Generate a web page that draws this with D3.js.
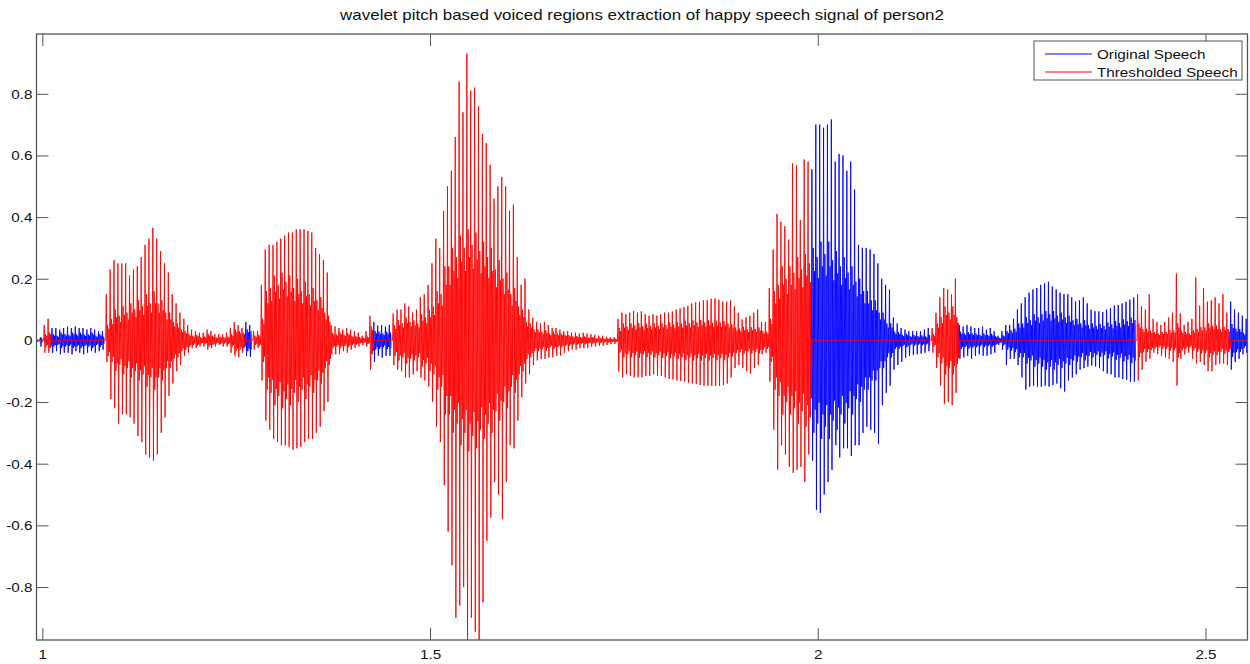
<!DOCTYPE html>
<html>
<head>
<meta charset="utf-8">
<script src="https://cdn.jsdelivr.net/npm/d3@7"></script>
<style>
  body { margin: 0; background: #fff; }
  text { font-family: "Liberation Sans", Arial, Helvetica, sans-serif; fill: #111; }
</style>
</head>
<body>
<svg id="chart" width="1250" height="664"></svg>
<script>
// Speech frames: one frame every 5 ms, each holding the positive peak,
// the negative peak and the amplitude of the ringing between peaks.
const frameStart = 0.9925;
const frameStep = 0.005;
const timeRange = [0.9925, 2.5542];
const valueRange = [-0.972, 0.994];

const peakHigh = [
  0.004,0.01,0.05,0.07,0.04,0.04,0.035,0.04,0.045,0.04,
  0.045,0.04,0.04,0.035,0.04,0.035,0.03,0.03,0.15,0.23,
  0.26,0.25,0.25,0.25,0.21,0.23,0.24,0.27,0.31,0.33,
  0.365,0.33,0.29,0.25,0.22,0.15,0.12,0.09,0.07,0.05,
  0.035,0.03,0.025,0.025,0.035,0.03,0.02,0.02,0.02,0.025,
  0.04,0.06,0.05,0.04,0.06,0.05,0.03,0.03,0.18,0.295,
  0.31,0.31,0.32,0.33,0.34,0.35,0.35,0.36,0.36,0.36,
  0.355,0.35,0.3,0.28,0.26,0.22,0.05,0.045,0.04,0.035,
  0.04,0.035,0.03,0.025,0.015,0.03,0.08,0.06,0.048,0.05,
  0.045,0.05,0.087,0.1,0.1,0.12,0.11,0.09,0.1,0.14,
  0.15,0.18,0.25,0.33,0.3,0.42,0.5,0.55,0.66,0.84,
  0.74,0.93,0.81,0.82,0.76,0.67,0.64,0.57,0.46,0.5,
  0.53,0.5,0.42,0.44,0.27,0.18,0.2,0.1,0.074,0.06,
  0.055,0.06,0.05,0.04,0.04,0.035,0.03,0.03,0.025,0.025,
  0.022,0.025,0.022,0.02,0.018,0.016,0.015,0.012,0.01,0.01,
  0.07,0.09,0.085,0.09,0.095,0.09,0.094,0.085,0.08,0.085,
  0.08,0.085,0.09,0.09,0.094,0.1,0.104,0.108,0.112,0.12,
  0.123,0.125,0.13,0.13,0.135,0.136,0.132,0.126,0.125,0.13,
  0.11,0.09,0.068,0.075,0.08,0.09,0.1,0.06,0.06,0.17,
  0.295,0.41,0.385,0.37,0.327,0.574,0.568,0.39,0.587,0.58,
  0.555,0.7,0.7,0.69,0.7,0.717,0.58,0.605,0.6,0.55,
  0.58,0.49,0.31,0.3,0.3,0.295,0.28,0.25,0.2,0.18,
  0.165,0.074,0.055,0.04,0.035,0.03,0.03,0.03,0.03,0.035,
  0.04,0.04,0.09,0.14,0.17,0.165,0.15,0.2,0.05,0.045,
  0.05,0.045,0.04,0.04,0.045,0.035,0.04,0.03,0.015,0.03,
  0.05,0.05,0.07,0.1,0.12,0.14,0.155,0.165,0.17,0.18,
  0.185,0.19,0.175,0.165,0.155,0.15,0.15,0.14,0.126,0.13,
  0.139,0.12,0.1,0.095,0.094,0.092,0.1,0.105,0.113,0.115,
  0.12,0.125,0.132,0.139,0.15,0.11,0.1,0.15,0.07,0.06,
  0.05,0.06,0.074,0.09,0.217,0.087,0.05,0.06,0.07,0.204,
  0.113,0.17,0.126,0.13,0.14,0.12,0.15,0.09,0.126,0.1,
  0.09,0.08,0.07
];

const peakLow = [
  -0.004,-0.02,-0.04,-0.04,-0.04,-0.035,-0.045,-0.04,-0.04,-0.045,
  -0.035,-0.04,-0.045,-0.04,-0.035,-0.04,-0.035,-0.03,-0.07,-0.19,
  -0.22,-0.27,-0.24,-0.24,-0.25,-0.27,-0.31,-0.33,-0.37,-0.38,
  -0.39,-0.37,-0.3,-0.25,-0.18,-0.14,-0.1,-0.08,-0.05,-0.04,
  -0.025,-0.025,-0.02,-0.02,-0.03,-0.025,-0.02,-0.015,-0.02,-0.02,
  -0.04,-0.05,-0.055,-0.04,-0.05,-0.053,-0.03,-0.025,-0.13,-0.26,
  -0.29,-0.32,-0.33,-0.34,-0.34,-0.345,-0.355,-0.35,-0.345,-0.33,
  -0.32,-0.32,-0.3,-0.28,-0.23,-0.2,-0.045,-0.045,-0.045,-0.035,
  -0.04,-0.03,-0.025,-0.02,-0.015,-0.02,-0.095,-0.07,-0.05,-0.056,
  -0.05,-0.05,-0.08,-0.095,-0.1,-0.12,-0.12,-0.11,-0.1,-0.12,
  -0.13,-0.15,-0.2,-0.28,-0.33,-0.47,-0.62,-0.73,-0.9,-0.86,
  -0.8,-0.98,-0.9,-0.945,-0.975,-0.85,-0.65,-0.575,-0.46,-0.5,
  -0.58,-0.46,-0.34,-0.35,-0.26,-0.185,-0.14,-0.11,-0.08,-0.065,
  -0.06,-0.06,-0.055,-0.055,-0.05,-0.05,-0.04,-0.035,-0.03,-0.03,
  -0.025,-0.025,-0.025,-0.02,-0.02,-0.018,-0.017,-0.015,-0.012,-0.012,
  -0.1,-0.12,-0.11,-0.115,-0.12,-0.12,-0.12,-0.115,-0.115,-0.11,
  -0.115,-0.115,-0.12,-0.125,-0.127,-0.13,-0.132,-0.134,-0.137,-0.14,
  -0.142,-0.145,-0.147,-0.147,-0.148,-0.148,-0.147,-0.145,-0.14,-0.12,
  -0.09,-0.08,-0.09,-0.1,-0.108,-0.09,-0.08,-0.045,-0.04,-0.134,
  -0.29,-0.42,-0.34,-0.37,-0.41,-0.43,-0.42,-0.41,-0.46,-0.37,
  -0.39,-0.55,-0.56,-0.5,-0.46,-0.42,-0.34,-0.38,-0.35,-0.35,
  -0.375,-0.34,-0.34,-0.3,-0.28,-0.29,-0.3,-0.335,-0.21,-0.17,
  -0.147,-0.095,-0.08,-0.07,-0.056,-0.05,-0.047,-0.045,-0.043,-0.04,
  -0.035,-0.04,-0.09,-0.147,-0.205,-0.2,-0.21,-0.17,-0.06,-0.055,
  -0.05,-0.06,-0.05,-0.045,-0.05,-0.05,-0.045,-0.04,-0.015,-0.03,
  -0.08,-0.06,-0.06,-0.08,-0.12,-0.16,-0.15,-0.147,-0.15,-0.15,
  -0.147,-0.15,-0.145,-0.14,-0.155,-0.166,-0.13,-0.12,-0.11,-0.095,
  -0.09,-0.085,-0.082,-0.085,-0.09,-0.1,-0.108,-0.11,-0.12,-0.12,
  -0.125,-0.128,-0.134,-0.134,-0.13,-0.095,-0.07,-0.06,-0.04,-0.045,
  -0.05,-0.055,-0.06,-0.07,-0.147,-0.06,-0.045,-0.04,-0.06,-0.075,
  -0.07,-0.08,-0.1,-0.1,-0.08,-0.075,-0.075,-0.08,-0.095,-0.07,
  -0.06,-0.045,-0.04
];

const coreAmp = [
  0.002,0.008,0.02,0.025,0.02,0.015,0.025,0.02,0.018,0.025,
  0.02,0.025,0.018,0.02,0.025,0.015,0.02,0.012,0.05,0.07,
  0.1,0.08,0.11,0.09,0.12,0.1,0.13,0.11,0.15,0.12,
  0.16,0.12,0.13,0.09,0.09,0.06,0.055,0.035,0.03,0.02,
  0.015,0.018,0.01,0.012,0.02,0.015,0.01,0.012,0.01,0.012,
  0.02,0.035,0.03,0.025,0.035,0.03,0.015,0.018,0.07,0.16,
  0.17,0.21,0.18,0.22,0.19,0.21,0.17,0.2,0.16,0.19,
  0.15,0.17,0.13,0.14,0.09,0.08,0.025,0.02,0.025,0.018,
  0.022,0.015,0.014,0.01,0.008,0.012,0.045,0.03,0.028,0.022,
  0.028,0.025,0.05,0.065,0.055,0.075,0.06,0.065,0.055,0.085,
  0.075,0.1,0.11,0.16,0.15,0.24,0.24,0.3,0.27,0.34,
  0.3,0.36,0.31,0.35,0.29,0.32,0.27,0.3,0.23,0.26,
  0.2,0.22,0.15,0.17,0.11,0.1,0.06,0.055,0.035,0.035,
  0.028,0.033,0.022,0.028,0.022,0.022,0.018,0.017,0.013,0.014,
  0.011,0.013,0.009,0.011,0.007,0.009,0.006,0.007,0.005,0.005,
  0.04,0.055,0.045,0.055,0.048,0.056,0.046,0.054,0.047,0.055,
  0.048,0.056,0.05,0.058,0.052,0.06,0.055,0.064,0.056,0.065,
  0.058,0.066,0.058,0.065,0.057,0.064,0.058,0.063,0.055,0.052,
  0.042,0.038,0.044,0.036,0.043,0.037,0.042,0.03,0.028,0.07,
  0.16,0.18,0.24,0.2,0.24,0.22,0.27,0.23,0.28,0.25,
  0.3,0.27,0.32,0.28,0.32,0.26,0.29,0.24,0.27,0.22,
  0.24,0.19,0.2,0.16,0.16,0.13,0.13,0.09,0.09,0.055,
  0.055,0.028,0.027,0.018,0.022,0.014,0.017,0.014,0.016,0.013,
  0.017,0.02,0.055,0.075,0.11,0.09,0.11,0.075,0.028,0.022,
  0.027,0.023,0.022,0.018,0.022,0.018,0.021,0.014,0.008,0.016,
  0.03,0.033,0.038,0.055,0.055,0.075,0.065,0.085,0.075,0.085,
  0.095,0.085,0.095,0.08,0.09,0.075,0.08,0.065,0.07,0.055,
  0.065,0.05,0.055,0.047,0.053,0.047,0.058,0.052,0.063,0.056,
  0.068,0.062,0.074,0.066,0.055,0.037,0.038,0.032,0.027,0.023,
  0.027,0.028,0.033,0.032,0.055,0.032,0.027,0.023,0.033,0.037,
  0.043,0.042,0.055,0.047,0.048,0.037,0.043,0.037,0.053,0.038,
  0.037,0.024,0.021
];

// Time spans (s) kept by the wavelet pitch threshold
const voicedRegions = [
  [1.000, 1.010], [1.080, 1.260], [1.270, 1.425],
  [1.450, 1.990], [2.145, 2.180], [2.410, 2.530]
];

const xTicks = [1, 1.5, 2, 2.5];
const yTicks = [-0.8, -0.6, -0.4, -0.2, 0, 0.2, 0.4, 0.6, 0.8];
const chartTitle = "wavelet pitch based voiced regions extraction of happy speech signal of person2";
const seriesNames = ["Original Speech", "Thresholded Speech"];
const seriesColors = ["#0000ff", "#ff0000"];

// ---- layout ----
const W = 1250, H = 664;
const plot = { left: 36.5, right: 1247.5, top: 34, bottom: 640 };
const tickLen = 12;
const textStretch = 1.13;
// shape of one frame: main peak, main trough, then two decaying ringing swings
const ringing = [1, -1, 0.75, -0.75];

const svg = d3.select("#chart");
svg.append("rect").attr("width", W).attr("height", H).attr("fill", "#fff");

const x = d3.scaleLinear().domain(timeRange).range([plot.left, plot.right]);
const y = d3.scaleLinear().domain(valueRange).range([plot.bottom, plot.top]);

const defs = svg.append("defs");
defs.append("clipPath").attr("id", "plotClip")
  .append("rect")
  .attr("x", plot.left).attr("y", plot.top)
  .attr("width", plot.right - plot.left).attr("height", plot.bottom - plot.top);

// the original trace is only visible where the thresholded trace does not overlay it
const openSpans = [];
let cursor = timeRange[0];
voicedRegions.forEach(([a, b]) => { openSpans.push([cursor, a]); cursor = b; });
openSpans.push([cursor, timeRange[1]]);
defs.append("clipPath").attr("id", "openClip")
  .selectAll("rect").data(openSpans).join("rect")
  .attr("x", d => x(d[0])).attr("y", plot.top)
  .attr("width", d => x(d[1]) - x(d[0])).attr("height", plot.bottom - plot.top);

const isVoiced = t => voicedRegions.some(([a, b]) => t >= a && t <= b);

function framePoints(keep) {
  const pts = [];
  const n = 2 + ringing.length;
  peakHigh.forEach((hi, i) => {
    const t = frameStart + i * frameStep;
    const g = keep(t) ? 1 : 0;
    pts.push([t, hi * g]);
    pts.push([t + frameStep / n, peakLow[i] * g]);
    ringing.forEach((r, k) => pts.push([t + frameStep * (k + 2) / n, coreAmp[i] * r * g]));
  });
  return pts;
}

const line = d3.line().x(d => x(d[0])).y(d => y(d[1]));

const waves = svg.append("g").attr("clip-path", "url(#plotClip)");
waves.append("g").attr("clip-path", "url(#openClip)")
  .append("path")
  .attr("d", line(framePoints(() => true)))
  .attr("fill", "none").attr("stroke", seriesColors[0]).attr("stroke-width", 0.9);
waves.append("path")
  .attr("d", line(framePoints(isVoiced)))
  .attr("fill", "none").attr("stroke", seriesColors[1]).attr("stroke-width", 0.9);

// ---- axes (ticks inward on all four sides) ----
const axisColor = "#555";
const fmt = d => String(+d.toFixed(1));

function styleAxis(g) {
  g.select(".domain").remove();
  g.selectAll(".tick line").attr("stroke", axisColor);
  g.selectAll(".tick text")
    .attr("fill", "#111")
    .style("font-size", "13.5px")
    .style("font-family", '"Liberation Sans", Arial, sans-serif');
}

const gBottom = svg.append("g").attr("transform", `translate(0,${plot.bottom})`)
  .call(d3.axisBottom(x).tickValues(xTicks).tickFormat(fmt)
    .tickSizeInner(-tickLen).tickSizeOuter(0).tickPadding(9));
styleAxis(gBottom);
gBottom.selectAll(".tick text").attr("transform", `scale(${textStretch},1)`);

const gLeft = svg.append("g").attr("transform", `translate(${plot.left},0)`)
  .call(d3.axisLeft(y).tickValues(yTicks).tickFormat(fmt)
    .tickSizeInner(-tickLen).tickSizeOuter(0).tickPadding(3.5));
styleAxis(gLeft);
gLeft.selectAll(".tick text").attr("transform", `scale(${textStretch},1)`);

const gTop = svg.append("g").attr("transform", `translate(0,${plot.top})`)
  .call(d3.axisTop(x).tickValues(xTicks).tickFormat("")
    .tickSizeInner(-tickLen).tickSizeOuter(0));
styleAxis(gTop);

const gRight = svg.append("g").attr("transform", `translate(${plot.right},0)`)
  .call(d3.axisRight(y).tickValues(yTicks).tickFormat("")
    .tickSizeInner(-tickLen).tickSizeOuter(0));
styleAxis(gRight);

svg.append("rect")
  .attr("x", plot.left).attr("y", plot.top)
  .attr("width", plot.right - plot.left).attr("height", plot.bottom - plot.top)
  .attr("fill", "none").attr("stroke", axisColor).attr("stroke-width", 1.3);

// ---- title ----
svg.append("text")
  .attr("transform", `translate(${(plot.left + plot.right) / 2},20) scale(${textStretch},1)`)
  .attr("text-anchor", "middle")
  .style("font-size", "15px")
  .text(chartTitle);

// ---- legend ----
const legend = svg.append("g");
legend.append("rect")
  .attr("x", 1034).attr("y", 41).attr("width", 208).attr("height", 39)
  .attr("fill", "#fff").attr("stroke", axisColor).attr("stroke-width", 1);
seriesNames.forEach((name, i) => {
  const cy = 54 + i * 18;
  legend.append("line")
    .attr("x1", 1045).attr("x2", 1092).attr("y1", cy).attr("y2", cy)
    .attr("stroke", seriesColors[i]).attr("stroke-width", 1);
  legend.append("text")
    .attr("transform", `translate(1097,${cy}) scale(${textStretch},1)`)
    .attr("dy", "0.36em")
    .style("font-size", "13.5px")
    .text(name);
});
</script>
</body>
</html>
